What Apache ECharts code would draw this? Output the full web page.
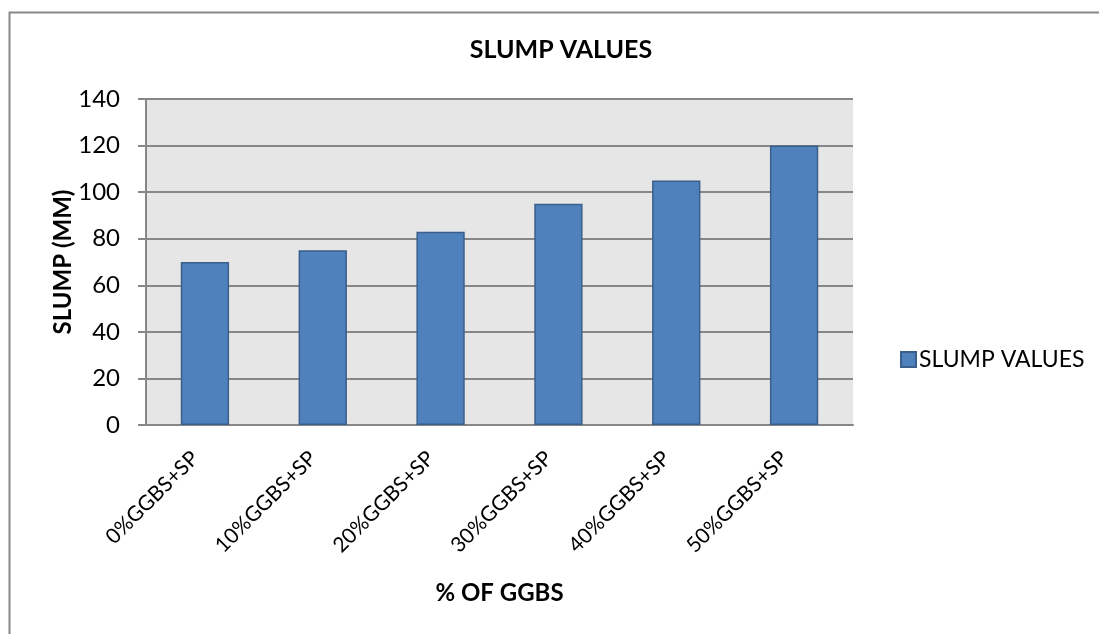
<!DOCTYPE html>
<html>
<head>
<meta charset="utf-8">
<script src="https://cdn.jsdelivr.net/npm/echarts@6/dist/echarts.min.js"></script>
<style>html,body{margin:0;padding:0;background:#fff}#c{width:1099px;height:634px}</style>
</head>
<body>
<div id="c"></div>
<script>
const categories = ['0%GGBS+SP','10%GGBS+SP','20%GGBS+SP','30%GGBS+SP','40%GGBS+SP','50%GGBS+SP'];
const slumpValues = [70, 75, 83, 95, 105, 120];
const seriesName = 'SLUMP VALUES';
const chartTitle = 'SLUMP VALUES';
const xName = '% OF GGBS';
const yName = 'SLUMP (MM)';
const FONT = 'Lato';

const chart = echarts.init(document.getElementById('c'), null, {renderer:'canvas'});
chart.setOption({
  animation: false,
  backgroundColor: '#fff',
  textStyle: {fontFamily: FONT},
  graphic: [{
    type: 'rect', left: 7, top: 10, silent: true,
    shape: {width: 1110, height: 640},
    style: {fill: 'none', stroke: '#888', lineWidth: 2}
  }],
  title: {
    text: chartTitle, left: 556, top: 32, textAlign: 'center',
    textStyle: {fontFamily: FONT, fontWeight: 'bold', fontSize: 25, color: '#000'}
  },
  legend: {
    data: [seriesName], left: 895, top: 343, itemWidth: 15, itemHeight: 15, itemGap: 6,
    icon: 'rect',
    textStyle: {fontFamily: FONT, fontSize: 23, color: '#000', padding: [0,0,0,-2]}
  },
  grid: {left: 146, right: 246, top: 99, bottom: 209, show: true, backgroundColor: '#E6E6E6', borderWidth: 0},
  xAxis: {
    type: 'category', data: categories,
    name: xName, nameLocation: 'middle', nameGap: 156, nameMoveOverlap: false,
    nameTextStyle: {fontFamily: FONT, fontWeight: 'bold', fontSize: 24, color: '#000'},
    axisLine: {lineStyle: {color: '#878787', width: 2}},
    axisTick: {show: false},
    axisLabel: {rotate: 45, fontSize: 21, color: '#000', fontFamily: FONT, margin: 20, padding: [0, 14, 0, 0], interval: 0}
  },
  yAxis: {
    type: 'value', min: 0, max: 140, interval: 20,
    name: yName, nameLocation: 'middle', nameGap: 71, nameMoveOverlap: false,
    nameTextStyle: {fontFamily: FONT, fontWeight: 'bold', fontSize: 24, color: '#000'},
    axisLine: {show: true, lineStyle: {color: '#878787', width: 2}},
    axisTick: {show: true, length: 8, lineStyle: {color: '#878787', width: 2}},
    axisLabel: {fontSize: 24, color: '#000', fontFamily: FONT, margin: 26},
    splitLine: {lineStyle: {color: '#878787', width: 2}}
  },
  series: [{
    name: seriesName, type: 'bar', data: slumpValues, barWidth: '41%',
    itemStyle: {color: '#4F81BD', borderColor: '#3A5F8B', borderWidth: 1.5}
  }]
});
</script>
</body>
</html>
